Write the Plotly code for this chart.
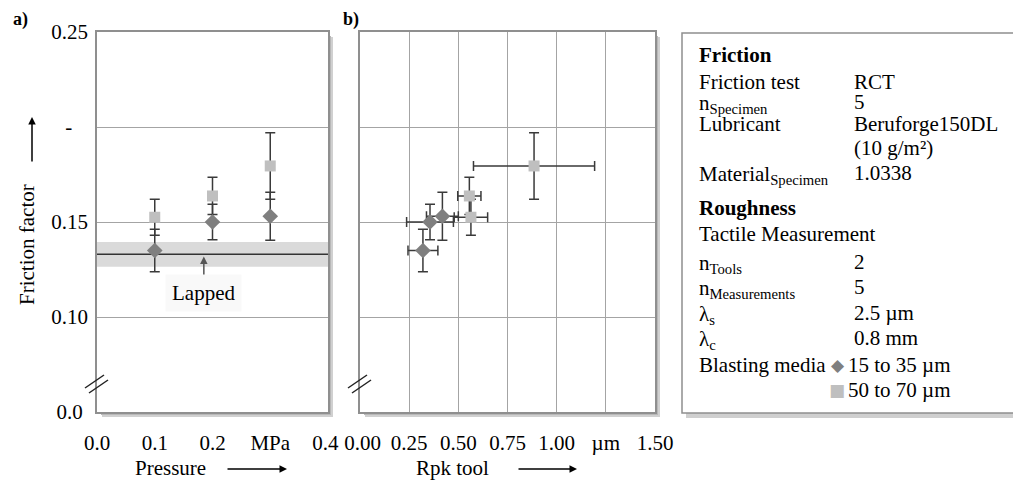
import plotly.graph_objects as go

# ---------------- data ----------------
pressure = [0.1, 0.2, 0.3]                      # MPa
ff_fine = [0.135, 0.150, 0.153]                 # blasting media 15-35 µm
ff_fine_err = [0.0112, 0.0093, 0.0126]
ff_coarse = [0.1525, 0.1637, 0.1795]            # blasting media 50-70 µm
ff_coarse_err = [0.0095, 0.0098, 0.0175]
rpk_fine = [0.32, 0.356, 0.419]                 # µm
rpk_fine_err = [0.076, 0.119, 0.081]
rpk_coarse = [0.564, 0.556, 0.885]
rpk_coarse_err = [0.085, 0.059, 0.308]
lapped = 0.133
lapped_band = 0.0065

y_tickvals = [0.05, 0.10, 0.15, 0.20, 0.25]
y_ticktext = ["0.0\u00a0", "0.10", "0.15", "-\u00a0\u00a0\u00a0", "0.25"]
xa_tickvals = [0.0, 0.1, 0.2, 0.3, 0.4]
xa_ticktext = ["0.0", "0.1", "0.2", "MPa", "0.4\u00a0"]
xb_tickvals = [0.0, 0.25, 0.5, 0.75, 1.0, 1.25, 1.5]
xb_ticktext = ["\u00a00.00", "0.25", "0.50", "0.75", "1.00", "µm", "1.50"]

info_rows = [
    ("<b>Friction</b>", "", 55),
    ("Friction test", "RCT", 82),
    ("n<sub>Specimen</sub>", "5", 102),
    ("Lubricant", "Beruforge150DL", 124),
    ("", "(10 g/m²)", 148),
    ("Material<sub>Specimen</sub>", "1.0338", 173),
    ("<b>Roughness</b>", "", 208),
    ("Tactile Measurement", "", 234),
    ("n<sub>Tools</sub>", "2", 262),
    ("n<sub>Measurements</sub>", "5", 287),
    ("λ<sub>s</sub>", "2.5 µm", 313),
    ("λ<sub>c</sub>", "0.8 mm", 338),
    ("Blasting media", "", 365),
]
legend_rows = [
    ("15 to 35 µm", "◆", "#7f7f7f", 365),
    ("50 to 70 µm", "■", "#bfbfbf", 390),
]

# ---------------- styling ----------------
W, H = 1013, 481
FONT = "Liberation Serif"
FS = 21
C_FINE = "#7f7f7f"
C_COARSE = "#bfbfbf"
C_ERR = "#3a3a3a"
C_BORDER = "#8f8f8f"
C_GRID = "#a4a4a4"


def px(x):
    return x / W


def py(y):
    return 1 - y / H


A = dict(l=97, r=328, t=32, b=412)
B = dict(l=360, r=655, t=32, b=412)

fig = go.Figure()

err_style = dict(type="data", color=C_ERR, thickness=1.5, width=5, visible=True)

# panel a
fig.add_trace(go.Scatter(
    x=pressure, y=ff_coarse, mode="markers", xaxis="x", yaxis="y",
    marker=dict(symbol="square", size=11, color=C_COARSE),
    error_y=dict(array=ff_coarse_err, **err_style), showlegend=False))
fig.add_trace(go.Scatter(
    x=pressure, y=ff_fine, mode="markers", xaxis="x", yaxis="y",
    marker=dict(symbol="diamond", size=12, color=C_FINE),
    error_y=dict(array=ff_fine_err, **err_style), showlegend=False))
# panel b
fig.add_trace(go.Scatter(
    x=rpk_coarse, y=ff_coarse, mode="markers", xaxis="x2", yaxis="y2",
    marker=dict(symbol="square", size=11, color=C_COARSE),
    error_y=dict(array=ff_coarse_err, **err_style),
    error_x=dict(array=rpk_coarse_err, **err_style), showlegend=False))
fig.add_trace(go.Scatter(
    x=rpk_fine, y=ff_fine, mode="markers", xaxis="x2", yaxis="y2",
    marker=dict(symbol="diamond", size=12, color=C_FINE),
    error_y=dict(array=ff_fine_err, **err_style),
    error_x=dict(array=rpk_fine_err, **err_style), showlegend=False))

axis_common = dict(showline=True, mirror=True, linecolor=C_BORDER, linewidth=1.5,
                   zeroline=False, ticks="", tickfont=dict(family=FONT, size=FS, color="black"),
                   fixedrange=True, automargin=False)

fig.update_layout(
    width=W, height=H, margin=dict(l=0, r=0, t=0, b=0, pad=0, autoexpand=False),
    paper_bgcolor="white", plot_bgcolor="rgba(0,0,0,0)",
    font=dict(family=FONT, size=FS, color="black"),
    xaxis=dict(domain=[px(A["l"]), px(A["r"])], range=[0, 0.4], anchor="y",
               tickvals=xa_tickvals, ticktext=xa_ticktext, showgrid=False,
               ticklabelstandoff=11, **axis_common),
    yaxis=dict(domain=[py(A["b"]), py(A["t"])], range=[0.05, 0.25], anchor="x",
               tickvals=y_tickvals, ticktext=y_ticktext, showgrid=True, gridcolor=C_GRID,
               gridwidth=1.2, ticklabelstandoff=3, **axis_common),
    xaxis2=dict(domain=[px(B["l"]), px(B["r"])], range=[0, 1.5], anchor="y2",
                tickvals=xb_tickvals, ticktext=xb_ticktext, showgrid=True, gridcolor=C_GRID,
                gridwidth=1.2, ticklabelstandoff=11, **axis_common),
    yaxis2=dict(domain=[py(B["b"]), py(B["t"])], range=[0.05, 0.25], anchor="x2",
                tickvals=y_tickvals, showticklabels=False, showgrid=True, gridcolor=C_GRID,
                gridwidth=1.2, **axis_common),
)

shapes = []
# lapped band + line
shapes.append(dict(type="rect", xref="x domain", yref="y", x0=0, x1=1,
                   y0=lapped - lapped_band, y1=lapped + lapped_band,
                   fillcolor="#dadada", line=dict(width=0), layer="below"))
shapes.append(dict(type="line", xref="x domain", yref="y", x0=0, x1=1,
                   y0=lapped, y1=lapped, line=dict(color="#333333", width=1.5), layer="below"))


def shadow(l, t, r, b):
    out = []
    out.append(dict(type="rect", xref="paper", yref="paper", x0=px(r + 1), x1=px(r + 5),
                    y0=py(b + 5), y1=py(t + 5), fillcolor="#d0d0d0", line=dict(width=0), layer="below"))
    out.append(dict(type="rect", xref="paper", yref="paper", x0=px(l + 5), x1=px(r + 5),
                    y0=py(b + 5), y1=py(b + 1), fillcolor="#d0d0d0", line=dict(width=0), layer="below"))
    out.append(dict(type="rect", xref="paper", yref="paper", x0=px(r + 1), x1=px(r + 3),
                    y0=py(b + 3), y1=py(t + 4), fillcolor="#b8b8b8", line=dict(width=0), layer="below"))
    out.append(dict(type="rect", xref="paper", yref="paper", x0=px(l + 4), x1=px(r + 3),
                    y0=py(b + 3), y1=py(b + 1), fillcolor="#b8b8b8", line=dict(width=0), layer="below"))
    return out


shapes += shadow(A["l"], A["t"], A["r"], A["b"])
shapes += shadow(B["l"], B["t"], B["r"], B["b"])

# legend / info box
LB = dict(l=682, t=33, r=1030, b=413)
shapes.append(dict(type="rect", xref="paper", yref="paper", x0=px(LB["l"] + 4), x1=px(LB["r"]),
                   y0=py(LB["b"] + 5), y1=py(LB["b"]), fillcolor="#cfcfcf", line=dict(width=0), layer="below"))
shapes.append(dict(type="rect", xref="paper", yref="paper", x0=px(LB["l"]), x1=px(LB["r"]),
                   y0=py(LB["b"]), y1=py(LB["t"]), fillcolor="white",
                   line=dict(color=C_BORDER, width=1.5), layer="below"))

# axis break marks
for bx in (A["l"], B["l"]):
    for dx, dy in ((-12, 0), (-8, 5)):
        shapes.append(dict(type="line", xref="paper", yref="paper",
                           x0=px(bx + dx), y0=py(388 + dy), x1=px(bx + dx + 19), y1=py(375 + dy),
                           line=dict(color="#222222", width=1.5)))

fig.update_layout(shapes=shapes)

ann = []
# panel labels
ann.append(dict(text="<b>a)</b>", x=px(11), y=py(19), xref="paper", yref="paper",
                xanchor="left", yanchor="middle", showarrow=False, font=dict(size=18)))
ann.append(dict(text="<b>b)</b>", x=px(341), y=py(19), xref="paper", yref="paper",
                xanchor="left", yanchor="middle", showarrow=False, font=dict(size=18)))
# axis titles
ann.append(dict(text="Friction factor", x=px(27), y=py(245), xref="paper", yref="paper",
                textangle=-90, xanchor="center", yanchor="middle", showarrow=False))
ann.append(dict(text="", x=px(32), y=py(117), xref="paper", yref="paper", ax=0, ay=46,
                showarrow=True, arrowhead=2, arrowsize=1, arrowwidth=1.5, arrowcolor="black"))
ann.append(dict(text="Pressure", x=px(170), y=py(468), xref="paper", yref="paper",
                xanchor="center", yanchor="middle", showarrow=False))
ann.append(dict(text="", x=px(287), y=py(469), xref="paper", yref="paper", ax=-61, ay=0,
                showarrow=True, arrowhead=2, arrowsize=1, arrowwidth=1.5, arrowcolor="black"))
ann.append(dict(text="Rpk tool", x=px(452), y=py(468), xref="paper", yref="paper",
                xanchor="center", yanchor="middle", showarrow=False))
ann.append(dict(text="", x=px(577), y=py(469), xref="paper", yref="paper", ax=-60, ay=0,
                showarrow=True, arrowhead=2, arrowsize=1, arrowwidth=1.5, arrowcolor="black"))
# lapped annotation
ann.append(dict(text="", x=0.185, y=lapped - 0.0012, xref="x", yref="y",
                ax=0.185, ay=lapped - 0.0125, axref="x", ayref="y",
                showarrow=True, arrowhead=2, arrowsize=1, arrowwidth=1.5, arrowcolor="#555555"))
ann.append(dict(text="Lapped", x=0.185, y=lapped - 0.0205, xref="x", yref="y",
                xanchor="center", yanchor="middle", showarrow=False,
                bgcolor="#f9f9f9", borderpad=6))

# info box text
for lab, val, yy in info_rows:
    sub_off = 2 if "<sub>" in lab else 0
    if lab:
        ann.append(dict(text=lab, x=px(697), y=py(yy + sub_off), xref="paper", yref="paper",
                        xanchor="left", yanchor="middle", showarrow=False))
    if val:
        ann.append(dict(text=val, x=px(852), y=py(yy), xref="paper", yref="paper",
                        xanchor="left", yanchor="middle", showarrow=False))
for txt, sym, col, yy in legend_rows:
    ann.append(dict(text=f"<span style='color:{col}'>{sym}</span>", x=px(847), y=py(yy),
                    xref="paper", yref="paper", xanchor="right", yanchor="middle",
                    showarrow=False, font=dict(family="DejaVu Sans", size=17)))
    ann.append(dict(text=txt, x=px(846), y=py(yy), xref="paper", yref="paper",
                    xanchor="left", yanchor="middle", showarrow=False))

fig.update_layout(annotations=ann)

fig.write_html("out.html")
